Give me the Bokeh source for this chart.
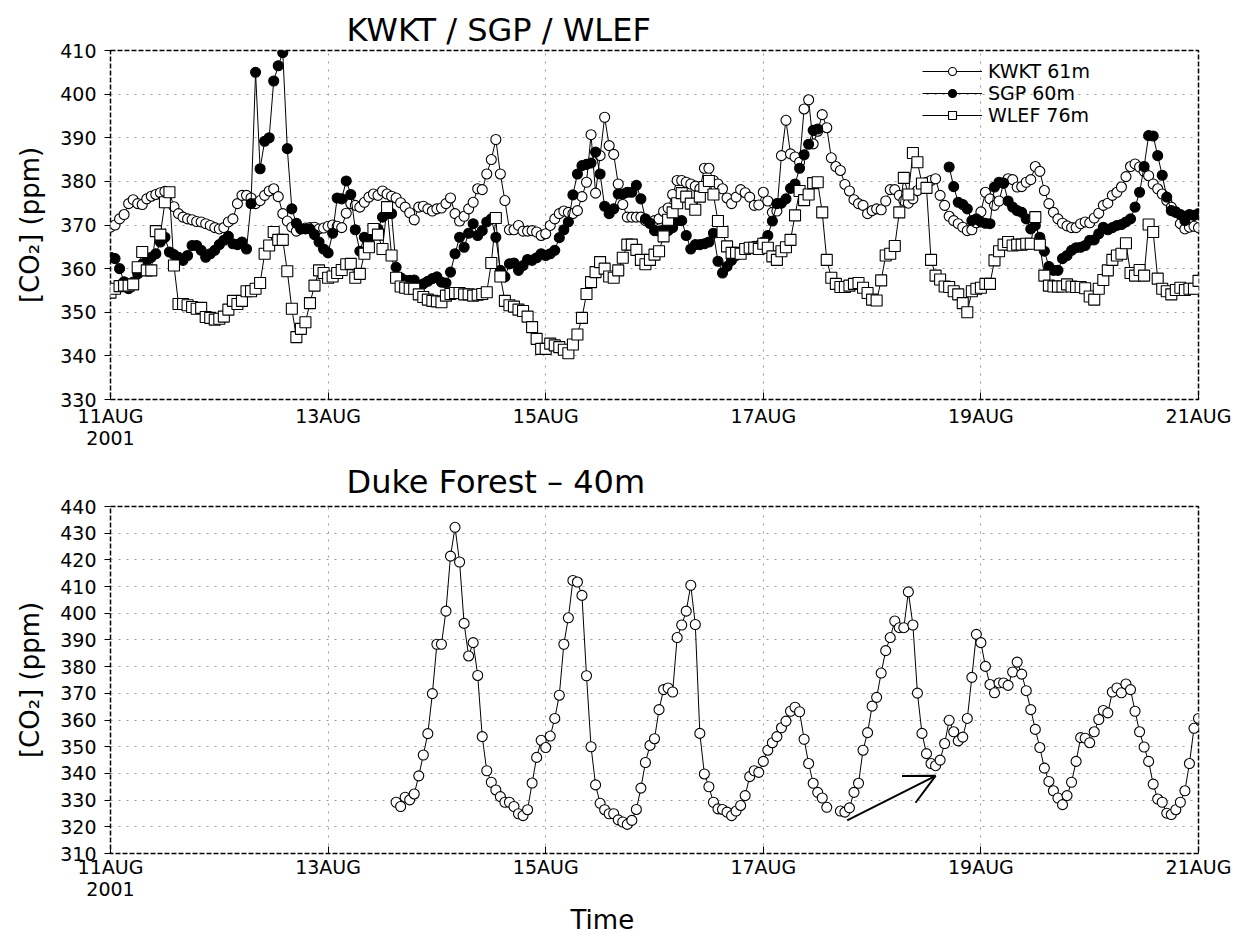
import math
from bokeh.plotting import figure
from bokeh.layouts import column
from bokeh.models import (ColumnDataSource, FixedTicker, SingleIntervalTicker, Legend, LegendItem,
                          Title, Arrow, OpenHead, Range1d)
from bokeh.embed import file_html
from bokeh.resources import INLINE

NaN = float("nan")

# ---------------- data (hourly values, hour 0 = 11 AUG 2001 00:00) ----------------
tick_hours = [0, 48, 96, 144, 192, 240]
tick_labels = ["11AUG\n2001", "13AUG", "15AUG", "17AUG", "19AUG", "21AUG"]

kwkt = [
    369.5, 370.0, 371.4, 372.4, 374.9, 375.8, 374.9, 374.7, 376.0, 376.6,   # h0
    377.0, 377.4, 377.7, 377.5, 374.2, 372.6, 371.8, 371.4, 371.2, 370.8,   # h10
    370.7, 370.3, 369.9, 369.4, 369.1, 369.4, 370.7, 371.4, 374.9, 376.8,   # h20
    376.8, 376.2, 374.9, 375.6, 376.8, 377.8, 378.3, 376.5, 372.6, 370.9,   # h30
    369.5, 368.6, 369.1, 369.3, 369.4, 369.5, 369.1, 369.3, 369.7, 370.0,   # h40
    369.7, 369.4, 372.7, 374.9, 374.5, 374.1, 375.2, 376.4, 377.1, 376.8,   # h50
    377.8, 377.1, 376.6, 376.2, 375.1, 374.1, 372.8, 371.2, 374.1, 374.3,   # h60
    373.7, 373.2, 373.7, 373.9, 374.9, 376.2, 372.6, 370.9, 372.0, 373.7,   # h70
    375.2, 378.3, 378.1, 381.7, 385.0, 389.6, 381.7, 375.6, 368.9, 368.9,   # h80
    369.9, 368.6, 368.6, 368.7, 368.4, 367.6, 368.0, 369.9, 371.4, 372.6,   # h90
    373.2, 372.9, 372.6, 373.3, 376.5, 379.8, 390.7, 377.3, 385.9, 394.7,   # h100
    388.2, 386.2, 379.4, 374.7, 371.8, 371.8, 371.8, 371.8, 371.0, 370.4,   # h110
    371.0, 371.4, 373.1, 373.9, 377.0, 380.2, 380.2, 379.8, 379.4, 378.9,   # h120
    378.3, 383.0, 383.0, 380.2, 379.4, 378.3, 376.2, 374.9, 376.4, 378.1,   # h130
    377.4, 376.4, 374.5, 374.6, 377.5, 375.5, 372.9, 373.2, 385.9, 394.0,   # h140
    386.3, 385.6, 384.4, 396.6, 398.7, 388.6, 391.5, 395.3, 392.3, 385.4,   # h150
    383.4, 382.5, 379.3, 377.8, 375.8, 374.9, 374.5, 372.6, 373.3, 373.7,   # h160
    373.5, 375.5, 378.1, 378.1, 376.8, 375.6, 375.0, 376.0, 377.9, 379.4,   # h170
    379.8, 380.2, 380.6, 376.8, 374.5, 372.0, 371.0, 370.3, 369.5, 368.7,   # h180
    368.9, 370.5, 373.0, 377.5, 376.0, 374.5, 375.5, 379.6, 380.6, 380.4,   # h190
    378.7, 378.8, 379.8, 380.4, 383.4, 382.3, 377.9, 374.9, 372.9, 371.4,   # h200
    370.4, 369.8, 369.4, 369.4, 370.3, 370.7, 370.5, 371.6, 372.7, 374.5,   # h210
    375.0, 376.8, 377.5, 378.7, 381.1, 383.4, 384.0, 383.3, 382.3, 381.3,   # h220
    379.4, 378.3, 377.1, 375.6, 374.1, 373.0, 370.3, 369.1, 369.5, 369.7,   # h230
    369.4,                                                                  # h240
]

sgp = [
    362.6, 362.3, 360.0, 357.0, 355.4, 356.9, 358.8, 361.0, 361.9, 362.6,   # h0
    363.4, 366.1, 367.2, 363.8, 363.2, 362.6, 361.9, 363.0, 365.3, 365.3,   # h10
    364.2, 362.6, 363.4, 364.2, 365.5, 366.5, 367.4, 365.7, 365.5, 366.1,   # h20
    364.5, 374.9, 405.0, 382.9, 389.2, 390.0, 403.0, 406.5, 409.5, 387.5,   # h30
    373.7, 370.4, 369.1, 369.1, 369.1, 367.8, 366.1, 364.5, 363.6, 368.1,   # h40
    376.2, 376.0, 380.1, 377.0, 368.9, 364.0, 367.2, 366.5, 368.0, 369.1,   # h50
    371.8, 372.6, 372.6, 360.3, 357.9, 357.3, 357.3, 357.4, 356.1, 356.5,   # h60
    357.1, 357.7, 358.1, 356.9, 356.7, 359.2, 363.4, 367.2, 364.9, 368.1,   # h70
    370.3, 367.6, 368.7, 370.7, 371.4, 367.2, 359.6, 358.1, 361.1, 361.3,   # h80
    359.6, 360.7, 362.1, 361.9, 362.5, 363.4, 363.0, 363.4, 364.2, 367.1,   # h90
    368.9, 370.7, 376.9, 381.7, 383.6, 383.9, 384.2, 386.7, 381.7, 374.3,   # h100
    372.6, 373.7, 377.1, 377.1, 377.5, 377.5, 379.1, 376.0, 371.4, 370.4,   # h110
    368.7, 368.6, 368.9, 368.7, 369.4, 371.0, 371.0, 367.6, 364.5, 365.5,   # h120
    365.5, 365.7, 366.1, 368.1, 361.7, 359.0, 360.5, 361.9, 363.0, 363.8,   # h130
    364.5, 364.9, 365.1, 365.3, 366.1, 367.6, 370.9, 374.9, 375.0, 376.0,   # h140
    378.4, 379.4, 383.0, 386.1, 388.5, 391.7, 392.0, NaN, NaN, NaN,         # h150
    NaN, NaN, NaN, NaN, NaN, NaN, NaN, NaN, NaN, NaN,                       # h160
    NaN, NaN, NaN, NaN, NaN, NaN, NaN, NaN, NaN, NaN,                       # h170
    NaN, NaN, NaN, NaN, NaN, 383.3, 378.8, 375.2, 374.7, 373.7,             # h180
    371.0, 371.4, 370.7, 370.4, 370.3, 378.7, 379.8, 379.6, 375.5, 374.1,   # h190
    373.3, 372.9, 371.4, 369.1, 369.9, 367.2, 364.0, 360.5, 359.6, 359.6,   # h200
    362.3, 363.0, 364.2, 364.8, 364.9, 365.3, 366.5, 366.6, 368.0, 369.5,   # h210
    368.9, 369.4, 369.9, 370.1, 370.7, 371.4, 374.1, 377.5, 383.4, 390.5,   # h220
    390.4, 385.9, 381.4, 376.4, 373.3, 372.9, 372.4, 371.0, 372.4, 372.2,   # h230
    372.6,                                                                  # h240
]

wlef = [
    354.5, 355.4, 356.0, 356.1, 356.1, 356.4, 360.3, 363.8, 359.6, 359.6,   # h0
    368.6, 367.8, 375.2, 377.5, 360.7, 351.9, 351.9, 351.6, 351.2, 350.8,   # h10
    351.0, 348.9, 348.7, 348.3, 348.5, 349.0, 350.6, 352.6, 351.9, 352.6,   # h20
    354.8, 354.8, 355.4, 356.7, 363.4, 365.3, 368.4, 366.6, 366.6, 359.4,   # h30
    350.8, 344.3, 346.2, 347.7, 352.1, 356.1, 359.6, 359.0, 357.9, 358.2,   # h40
    359.0, 359.7, 361.0, 361.1, 357.9, 358.8, 363.4, 364.9, 369.1, 367.8,   # h50
    364.5, 374.1, 363.0, 357.9, 355.9, 355.6, 355.4, 355.4, 354.1, 353.5,   # h60
    352.9, 352.6, 352.5, 352.3, 353.8, 354.2, 354.4, 354.4, 354.1, 354.1,   # h70
    353.8, 354.0, 354.2, 354.6, 361.3, 371.6, 358.2, 352.6, 351.6, 351.3,   # h80
    350.6, 350.3, 349.0, 346.6, 343.9, 341.6, 341.6, 342.8, 342.4, 342.0,   # h90
    341.4, 340.6, 342.6, 344.9, 348.7, 354.2, 356.9, 359.2, 361.5, 360.0,   # h100
    358.2, 357.9, 359.6, 362.5, 365.5, 365.5, 364.3, 362.0, 361.0, 362.0,   # h110
    363.2, 364.0, 367.4, 371.2, 372.9, 375.0, 377.3, 376.5, 374.9, 373.5,   # h120
    376.5, 378.7, 380.1, 377.0, 370.9, 368.4, 365.1, 363.6, 363.6, 363.4,   # h130
    364.5, 364.8, 364.8, 364.5, 365.7, 364.8, 362.8, 362.0, 364.0, 364.9,   # h140
    366.6, 372.2, 377.8, 375.7, 377.0, 379.6, 379.8, 372.9, 362.0, 357.9,   # h150
    356.5, 355.8, 355.8, 356.1, 356.5, 356.7, 355.6, 354.4, 352.9, 352.7,   # h160
    357.3, 363.0, 363.4, 365.2, 372.9, 380.8, 377.0, 386.5, 384.4, 379.5,   # h170
    378.5, 362.0, 358.4, 357.5, 355.9, 355.8, 354.8, 354.1, 352.1, 350.0,   # h180
    354.8, 355.4, 355.6, 356.5, 356.5, 361.9, 364.0, 365.5, 366.1, 365.3,   # h190
    365.5, 365.5, 365.7, 365.7, 371.8, 365.5, 358.4, 356.1, 355.9, 355.9,   # h200
    355.9, 356.4, 355.9, 355.8, 355.8, 355.5, 353.6, 352.9, 355.4, 357.4,   # h210
    359.6, 362.0, 363.0, 363.4, 365.8, 359.0, 358.4, 359.7, 358.4, 370.1,   # h220
    368.4, 357.7, 355.4, 354.8, 354.1, 355.1, 355.6, 355.1, 355.4, 355.4,   # h230
    357.2,                                                                  # h240
]

duke = [NaN] * 63 + [
    329.2, 327.6, 331.1, 330.1, 332.3, 339.1, 346.9,                        # h63
    354.9, 369.9, 388.4, 388.4, 400.8, 421.4, 432.2, 419.2, 396.2, 384.0,   # h70
    389.0, 376.7, 353.8, 341.0, 336.7, 333.8, 331.3, 329.2, 329.2, 327.6,   # h80
    324.9, 324.2, 326.4, 336.4, 346.0, 352.4, 349.7, 354.0, 360.6, 369.3,   # h90
    388.4, 398.3, 412.3, 411.7, 406.7, 376.6, 350.0, 335.7, 328.8, 326.4,   # h100
    324.9, 324.9, 322.6, 321.8, 320.9, 322.4, 326.5, 334.5, 344.1, 350.5,   # h110
    353.0, 363.9, 371.4, 372.0, 370.5, 390.9, 395.6, 400.8, 410.5, 395.8,   # h120
    355.0, 339.8, 335.0, 329.2, 326.7, 326.5, 325.5, 324.2, 325.9, 328.0,   # h130
    331.7, 338.8, 341.0, 340.4, 344.5, 348.7, 351.5, 353.8, 357.1, 359.6,   # h140
    363.3, 364.8, 363.1, 352.8, 343.7, 336.3, 332.9, 330.8, 327.3, NaN,     # h150
    NaN, 325.9, 325.5, 327.1, 332.9, 336.3, 348.7, 355.3, 365.2, 368.5,     # h160
    377.6, 386.0, 390.9, 397.1, 394.6, 394.6, 408.0, 395.6, 370.1, 355.0,   # h170
    347.4, 343.7, 342.9, 345.0, 351.2, 359.9, 355.6, 352.2, 353.6, 360.6,   # h180
    376.0, 392.1, 389.0, 380.1, 373.3, 370.2, 373.9, 373.9, 373.0, 378.0,   # h190
    381.7, 377.2, 371.0, 363.9, 356.5, 349.7, 342.0, 337.0, 333.5, 330.8,   # h200
    328.3, 331.7, 336.7, 344.5, 353.4, 353.2, 351.5, 355.6, 360.2, 363.6,   # h210
    362.7, 370.5, 372.0, 370.2, 373.5, 371.4, 363.3, 355.6, 349.9, 344.5,   # h220
    336.0, 330.4, 329.2, 325.1, 324.6, 326.4, 329.2, 333.5, 343.7, 356.9,   # h230
    360.6,                                                                  # h240
]

# arrow annotation in the Duke panel (hour, ppm)
arrow_tail = (162.5, 322.4)
arrow_tip = (182.0, 339.1)

FONT = "DejaVu Sans"


def base_fig(height, top, bottom, y0, y1, x_standoff):
    p = figure(width=1233, height=height,
               x_range=Range1d(0, 240), y_range=Range1d(y0, y1),
               output_backend="svg", toolbar_location=None,
               min_border_left=110, min_border_right=35,
               min_border_top=top, min_border_bottom=bottom)
    p.background_fill_color = "white"
    p.border_fill_color = "white"
    p.outline_line_color = "black"
    p.outline_line_width = 1.5
    p.outline_line_dash = "5 2"

    p.xaxis.ticker = FixedTicker(ticks=tick_hours)
    p.xaxis.major_label_overrides = {h: t for h, t in zip(tick_hours, tick_labels)}
    p.xaxis.major_tick_in = 7
    p.xaxis.major_tick_out = 0
    p.xaxis.minor_tick_line_color = None
    p.xaxis.axis_line_color = None
    p.xaxis.major_label_standoff = x_standoff
    p.xaxis.major_label_text_font = FONT
    p.xaxis.major_label_text_font_size = "19px"
    p.xaxis.major_label_text_line_height = 1.0
    p.xaxis.major_label_text_color = "black"

    p.yaxis.ticker = SingleIntervalTicker(interval=10)
    p.yaxis.major_tick_in = 0
    p.yaxis.major_tick_out = 6
    p.yaxis.minor_tick_line_color = None
    p.yaxis.axis_line_color = None
    p.yaxis.major_label_standoff = 8
    p.yaxis.major_label_text_font = FONT
    p.yaxis.major_label_text_font_size = "19px"
    p.yaxis.major_label_text_color = "black"
    p.yaxis.axis_label = "[CO\u2082] (ppm)"
    p.yaxis.axis_label_text_font = FONT
    p.yaxis.axis_label_text_font_size = "26px"
    p.yaxis.axis_label_text_font_style = "normal"
    p.yaxis.axis_label_text_color = "black"
    p.yaxis.axis_label_standoff = 12

    for g in (p.xgrid, p.ygrid):
        g.grid_line_color = "#9a9a9a"
        g.grid_line_dash = "2 6"
        g.grid_line_width = 1
    p.xgrid.ticker = FixedTicker(ticks=tick_hours)
    p.ygrid.ticker = SingleIntervalTicker(interval=10)
    return p


# ---------------- top panel ----------------
p1 = base_fig(455, 50, 56, 330, 410, 5)
p1.add_layout(Title(text="KWKT / SGP / WLEF", align="left", offset=236, standoff=3,
                    text_font=FONT, text_font_size="32px", text_font_style="normal",
                    text_color="black"), "above")

src_k = ColumnDataSource(dict(h=list(range(len(kwkt))), v=kwkt))
src_s = ColumnDataSource(dict(h=list(range(len(sgp))), v=sgp))
src_w = ColumnDataSource(dict(h=list(range(len(wlef))), v=wlef))

lk = p1.line("h", "v", source=src_k, line_color="black", line_width=1)
mk = p1.scatter("h", "v", source=src_k, marker="circle", size=10,
                fill_color="white", line_color="black", line_width=1.1)
ls = p1.line("h", "v", source=src_s, line_color="black", line_width=1)
ms = p1.scatter("h", "v", source=src_s, marker="circle", size=10,
                fill_color="black", line_color="black", line_width=1.1)
lw = p1.line("h", "v", source=src_w, line_color="black", line_width=1)
mw = p1.scatter("h", "v", source=src_w, marker="square", size=11,
                fill_color="white", line_color="black", line_width=1.1)

legend = Legend(items=[LegendItem(label="KWKT 61m", renderers=[lk, mk]),
                       LegendItem(label="SGP 60m", renderers=[ls, ms]),
                       LegendItem(label="WLEF 76m", renderers=[lw, mw])],
                location=(812, 273), orientation="vertical",
                glyph_width=60, glyph_height=20, label_height=20,
                spacing=0, padding=0, margin=0, label_standoff=6,
                border_line_color=None, background_fill_alpha=0,
                label_text_font=FONT, label_text_font_size="19px",
                label_text_line_height=1.0,
                label_text_color="black")
p1.add_layout(legend)

# ---------------- bottom panel ----------------
p2 = base_fig(479, 49, 81, 310, 440, 2)
p2.add_layout(Title(text="Duke Forest \u2013 40m", align="left", offset=236, standoff=11,
                    text_font=FONT, text_font_size="32px", text_font_style="normal",
                    text_color="black"), "above")
p2.add_layout(Title(text="Time", align="left", offset=460, standoff=0,
                    text_font=FONT, text_font_size="26px", text_font_style="normal",
                    text_color="black"), "below")

src_d = ColumnDataSource(dict(h=list(range(len(duke))), v=duke))
p2.line("h", "v", source=src_d, line_color="black", line_width=1)
p2.scatter("h", "v", source=src_d, marker="circle", size=10,
           fill_color="white", line_color="black", line_width=1.1)

p2.add_layout(Arrow(end=OpenHead(size=30, line_width=2, line_color="black"),
                    x_start=arrow_tail[0], y_start=arrow_tail[1],
                    x_end=arrow_tip[0], y_end=arrow_tip[1],
                    line_width=2, line_color="black"))

layout = column(p1, p2)
open("out.html", "w").write(file_html(layout, INLINE))
